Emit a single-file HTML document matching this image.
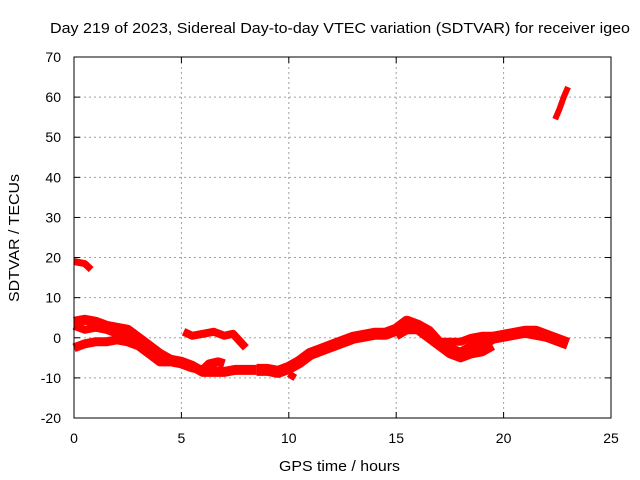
<!DOCTYPE html>
<html><head><meta charset="utf-8"><style>
body{margin:0;background:#fff}
svg{display:block;font-family:"Liberation Sans",Arial,sans-serif;font-size:14px}
</style></head><body>
<svg id="c" width="640" height="480">
<text x="50" y="33" textLength="580" lengthAdjust="spacingAndGlyphs" style="font-size:15px">Day 219 of 2023, Sidereal Day-to-day VTEC variation (SDTVAR) for receiver igeo</text>
<g id="grid"></g><g id="series"></g><g id="axes"></g>
<text x="279" y="471" textLength="121" lengthAdjust="spacingAndGlyphs" style="font-size:15px">GPS time / hours</text>
<text x="0" y="0" textLength="128" lengthAdjust="spacingAndGlyphs" style="font-size:15px" transform="translate(19 302) rotate(-90)">SDTVAR / TECUs</text>
</svg>
<script>
const xTicks=[0,5,10,15,20,25];
const yTicks=[-20,-10,0,10,20,30,40,50,60,70];
const s1=[[0,4],[0.5,4.5],[1,4],[1.5,3],[2,2.5],[2.5,2],[3,0],[3.5,-2],[4,-4],[4.5,-5.5],[5,-6],[5.5,-7],[6,-8.5],[6.5,-8.5],[7,-8.5],[7.5,-8],[8,-8],[8.5,-8]];
const s2=[[0,3],[0.5,2],[1,2.5],[1.5,2],[2,1],[2.5,0],[3,-1.5],[3.5,-3],[4,-5.5]];
const s3=[[0,-2.5],[0.5,-1.5],[1,-1],[1.5,-1],[2,-0.5],[2.5,-1],[3,-2],[3.5,-4],[4,-6],[4.5,-6],[5,-6.5],[5.5,-7.5],[6,-8],[6.3,-6.5],[6.7,-6],[7,-6.5]];
const s4=[[5.1,1.5],[5.5,0.5],[6,1],[6.5,1.5],[7,0.5],[7.4,1],[8,-2.5]];
const s5=[[8.5,-8],[9,-8],[9.5,-8.5],[10,-7.5],[10.5,-6],[11,-4],[11.5,-3],[12,-2],[12.5,-1],[13,0],[13.5,0.5],[14,1],[14.5,1],[15,2],[15.5,4],[16,3],[16.5,1.5],[17,-1.5],[17.5,-3],[18,-4],[18.5,-2.5],[19,-1.5],[19.5,0],[20,0.5],[20.5,1],[21,1.5],[21.5,1.5],[22,0.5],[22.5,-0.5],[23,-1.5]];
const s6=[[10,-9],[10.3,-10]];
const s7=[[15,0.5],[15.5,2],[16,2],[16.5,0],[17,-2],[17.5,-4],[18,-5],[18.5,-4],[19,-3.5],[19.5,-2]];
const s8=[[17,-1],[18,-1],[18.5,0],[19,0.5],[19.5,0.5],[20,0.5],[21,1],[22,0],[23,-1]];
const s9=[[0,19],[0.5,18.5],[0.8,17]];
const s10=[[22.4,54.5],[22.6,57],[22.8,60],[23,62.5]];
const allSeries=[s1,s2,s3,s4,s5,s6,s7,s8,s9,s10];
const widths=[10,8,9,8,12,7,9,8,7,6];
const X0=74,X1=611,Y0=418,Y1=57;
const xs=v=>X0+(v-0)/(25-0)*(X1-X0);
const ys=v=>Y0-(v+20)/90*(Y0-Y1);
const NS="http://www.w3.org/2000/svg";
function mk(t,a,p){const e=document.createElementNS(NS,t);for(const k in a)e.setAttribute(k,a[k]);p.appendChild(e);return e;}
const grid=document.getElementById('grid'),axes=document.getElementById('axes'),ser=document.getElementById('series');
xTicks.forEach(t=>{const x=xs(t);
 if(t>0&&t<25){const g=mk('line',{x1:x,x2:x,y1:Y1,y2:Y0,stroke:'#a0a0a0','stroke-dasharray':'2,3'},grid);
 
 }
 mk('line',{x1:x,x2:x,y1:Y0,y2:Y0-6,stroke:'#000'},axes);
 mk('line',{x1:x,x2:x,y1:Y1,y2:Y1+6,stroke:'#000'},axes);
 const l=mk('text',{x:x,y:443,'text-anchor':'middle'},axes);l.textContent=t;
 
 });
yTicks.forEach(t=>{const y=ys(t);
 if(t>-20&&t<70){const g=mk('line',{x1:X0,x2:X1,y1:y,y2:y,stroke:'#a0a0a0','stroke-dasharray':'2,3'},grid);
 
 }
 mk('line',{x1:X0,x2:X0+6,y1:y,y2:y,stroke:'#000'},axes);
 mk('line',{x1:X1,x2:X1-6,y1:y,y2:y,stroke:'#000'},axes);
 const l=mk('text',{x:61,y:y+5,'text-anchor':'end'},axes);l.textContent=t;
 
 });
const fr=mk('rect',{x:X0,y:Y1,width:X1-X0,height:Y0-Y1,fill:'none',stroke:'#000'},axes);


allSeries.forEach((s,i)=>{
 const p=mk('polyline',{points:s.map(d=>xs(d[0])+','+ys(d[1])).join(' '),fill:'none',stroke:'#ff0000','stroke-width':widths[i],'stroke-linejoin':'round','stroke-linecap':'butt'},ser);
 
 
});
</script>
</body></html>
